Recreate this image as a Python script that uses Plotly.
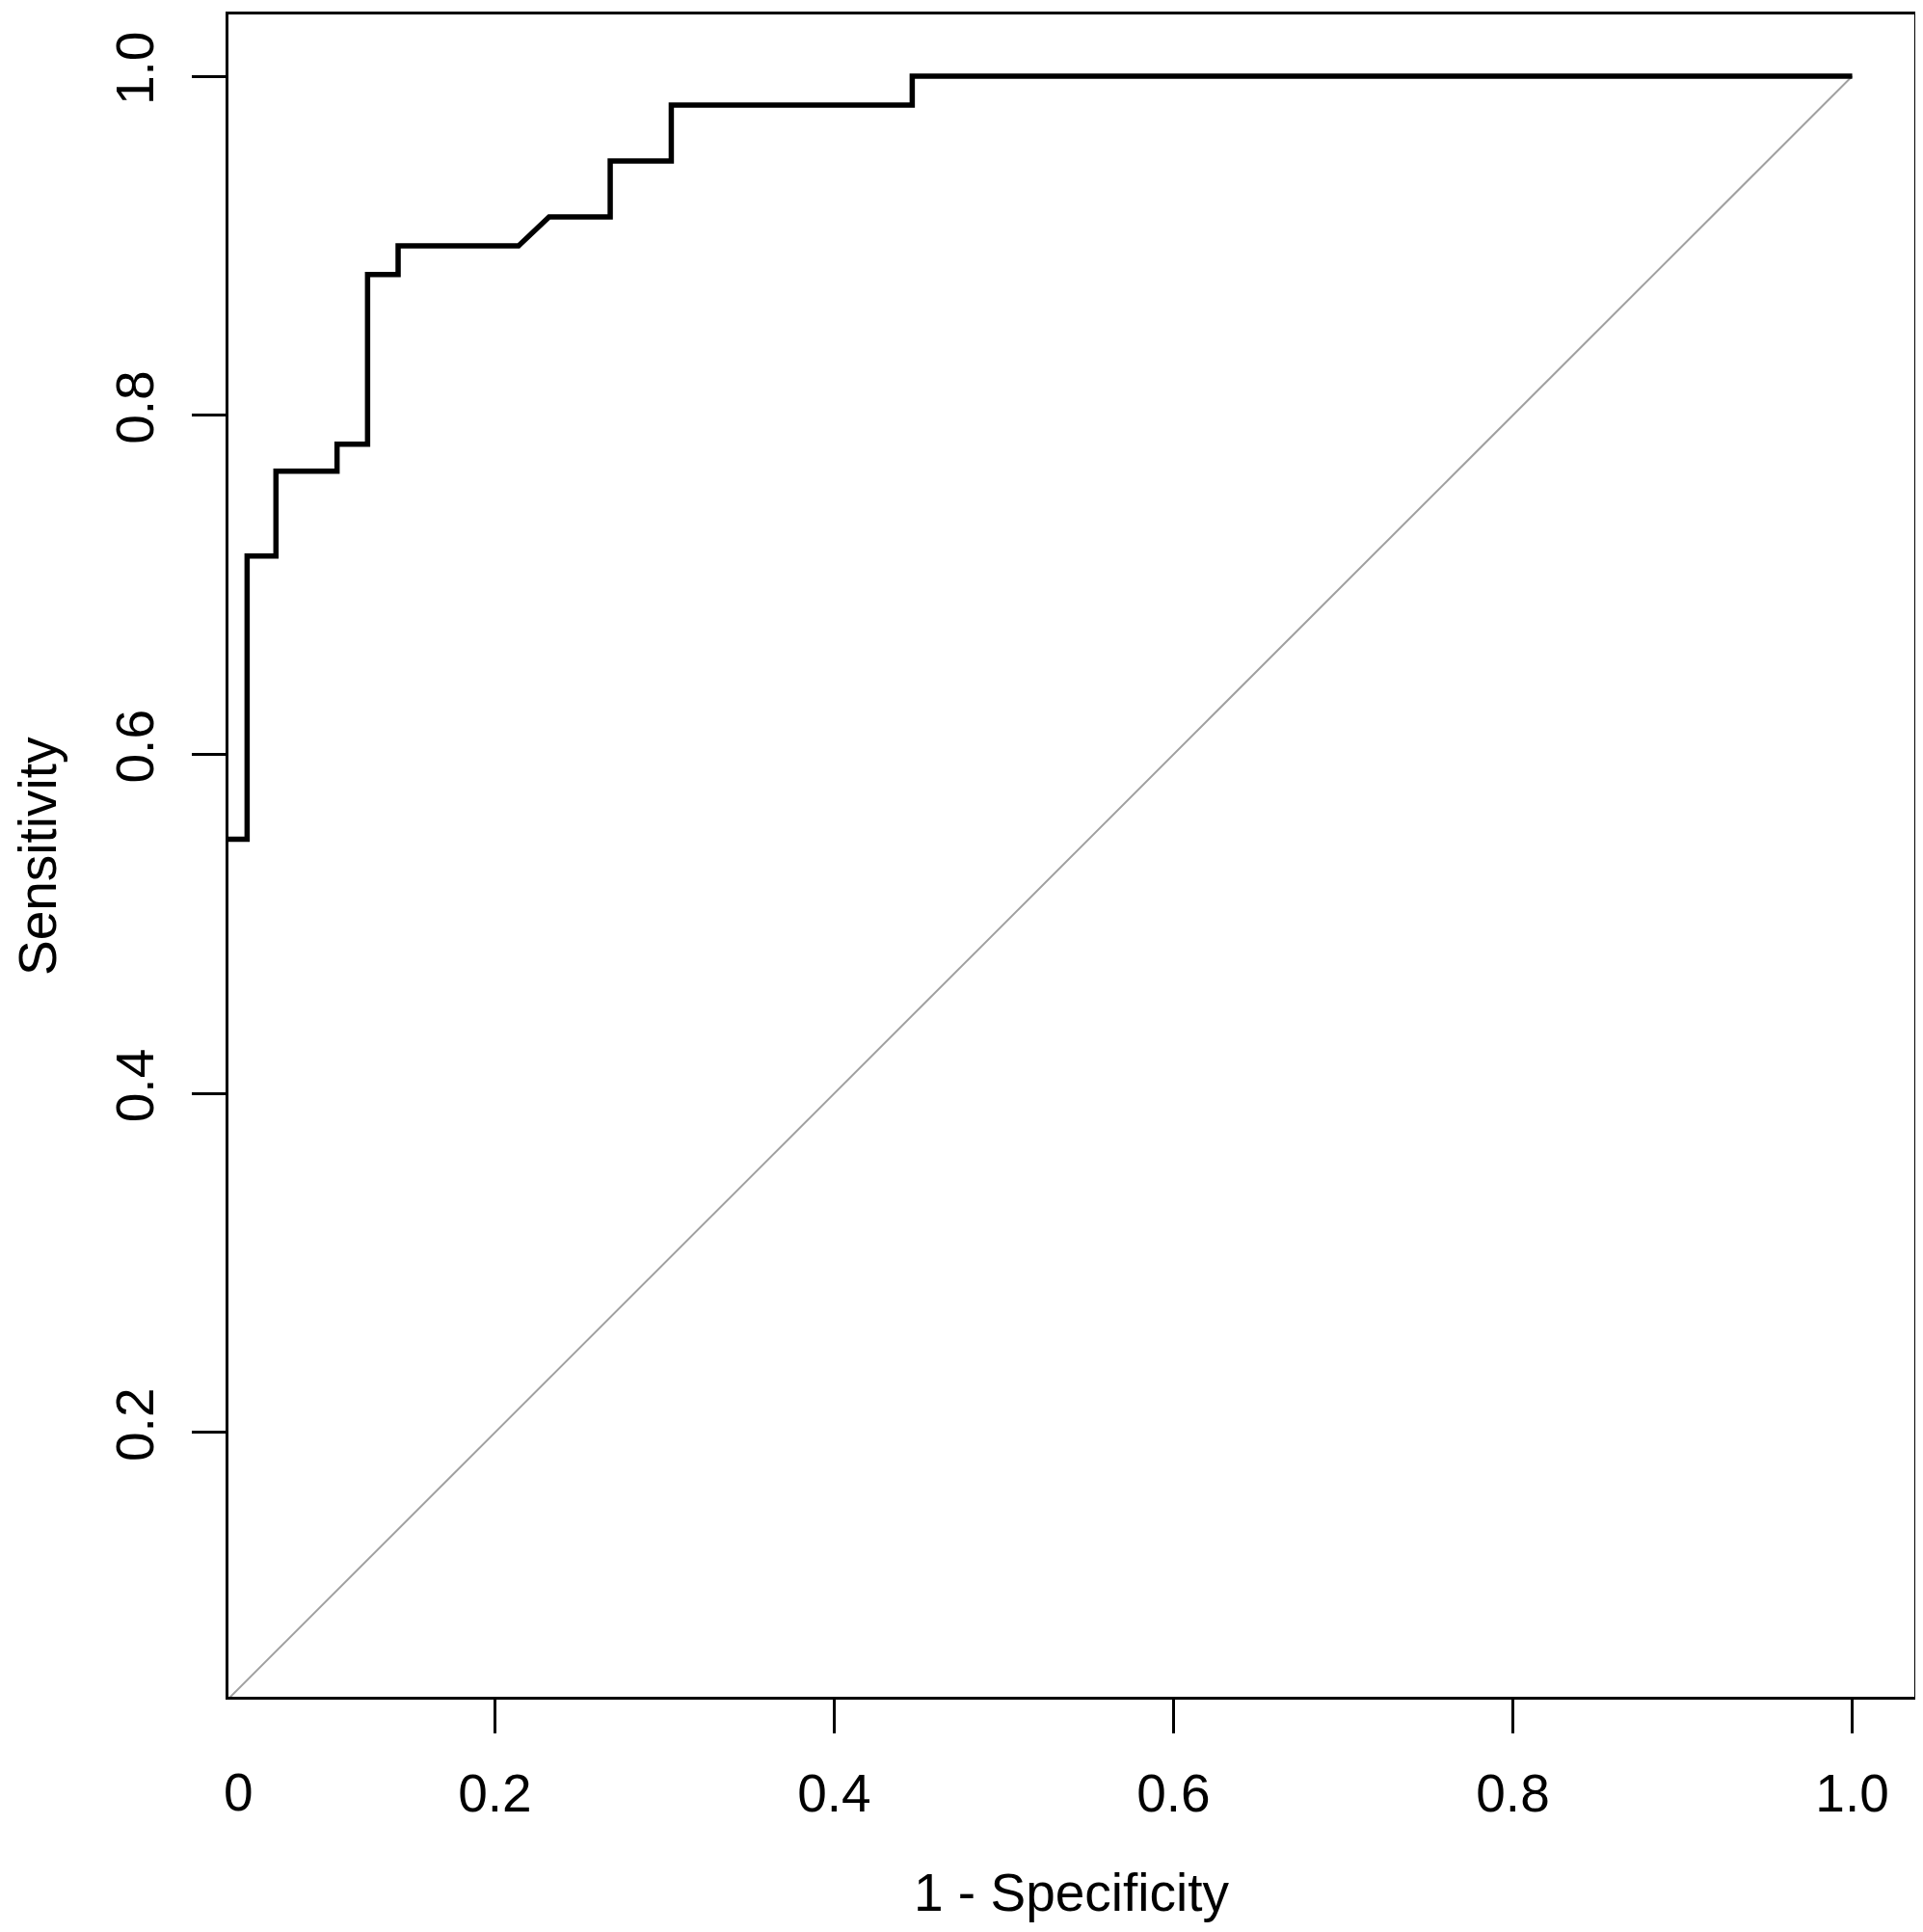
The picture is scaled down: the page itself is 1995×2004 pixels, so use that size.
import plotly.graph_objects as go

# ROC curve (1 - specificity, sensitivity)
fpr = [0.036, 0.054, 0.054, 0.071, 0.071, 0.107, 0.107, 0.125, 0.125, 0.143,
       0.143, 0.214, 0.232, 0.268, 0.268, 0.304, 0.304, 0.446, 0.446, 1.0]
tpr = [0.55, 0.55, 0.717, 0.717, 0.767, 0.767, 0.783, 0.783, 0.883, 0.883,
       0.9, 0.9, 0.917, 0.917, 0.95, 0.95, 0.983, 0.983, 1.0, 1.0]

# chance line
diag_x = [0, 1]
diag_y = [0, 1]

xticks = [0.2, 0.4, 0.6, 0.8, 1.0]
xticklabels = ["0.2", "0.4", "0.6", "0.8", "1.0"]
yticks = [0.2, 0.4, 0.6, 0.8, 1.0]
yticklabels = ["0.2", "0.4", "0.6", "0.8", "1.0"]
zero_label_x = 0.049

font = "Liberation Sans, Arial, sans-serif"

fig = go.Figure()
fig.add_trace(go.Scatter(x=diag_x, y=diag_y, mode="lines",
                         line=dict(color="#a0a0a0", width=2), hoverinfo="skip"))
fig.add_trace(go.Scatter(x=fpr, y=tpr, mode="lines",
                         line=dict(color="black", width=5.5)))

# page body adds 8px, so margins are trimmed to keep the box where it belongs
fig.update_layout(
    width=1995, height=2004,
    margin=dict(l=229, r=17, t=4, b=252),
    paper_bgcolor="white", plot_bgcolor="white",
    showlegend=False,
    font=dict(family=font, size=55, color="black"),
)
fig.update_xaxes(
    range=[0.043, 1.0366], tickvals=xticks, ticktext=xticklabels,
    showgrid=False, zeroline=False,
    showline=True, linecolor="black", linewidth=2.5, mirror=True,
    ticks="outside", ticklen=35, tickwidth=2.5, tickcolor="black",
    ticklabelstandoff=15,
)
fig.update_yaxes(
    range=[0.0442, 1.0364], tickvals=yticks, ticktext=yticklabels,
    showgrid=False, zeroline=False,
    showline=True, linecolor="black", linewidth=2.5, mirror=True,
    ticks="outside", ticklen=35, tickwidth=2.5, tickcolor="black",
    tickangle=-90, ticklabelstandoff=18,
)

fig.add_annotation(x=zero_label_x, xref="x", y=-0.0565, yref="paper",
                   text="0", showarrow=False, font=dict(size=55),
                   xanchor="center", yanchor="middle")
fig.add_annotation(x=0.5, xref="paper", y=-0.1163, yref="paper",
                   text="1 - Specificity", showarrow=False, font=dict(size=55),
                   xanchor="center", yanchor="middle")
fig.add_annotation(x=-0.1135, xref="paper", y=0.5, yref="paper",
                   text="Sensitivity", textangle=-90, showarrow=False,
                   font=dict(size=55), xanchor="center", yanchor="middle")

fig.write_html("out.html")
